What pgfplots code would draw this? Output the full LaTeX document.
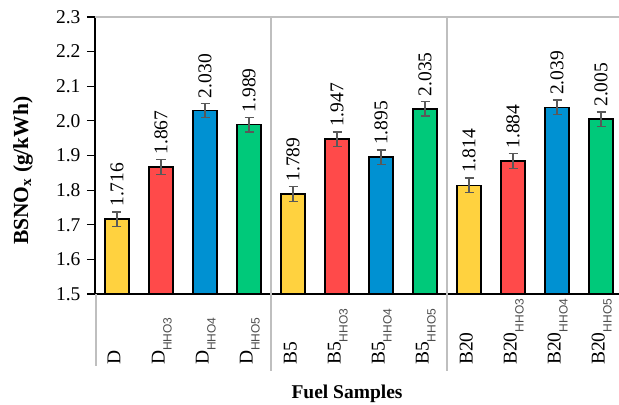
\documentclass[border=0pt]{standalone}
\usepackage{pgfplots}
\pgfplotsset{compat=1.18}
\usepackage{fontspec}
\setmainfont{Liberation Serif}
\newfontfamily\subfont{Liberation Sans}
\definecolor{cY}{HTML}{FFD23F}
\definecolor{cR}{HTML}{FF4A4A}
\definecolor{cB}{HTML}{0091D2}
\definecolor{cG}{HTML}{00C97A}
\definecolor{sep}{HTML}{BFBFBF}
\definecolor{err}{HTML}{595959}
\newcommand\sub[1]{\raisebox{-7bp}{\fontsize{12bp}{13bp}\subfont\color{black!70}#1}}
\newcommand\lf{\fontsize{19.5bp}{21bp}\selectfont}
\begin{document}
\begin{tikzpicture}
\begin{axis}[
  width=524bp, height=277bp, scale only axis,
  xmin=-0.5, xmax=11.409, ymin=1.5, ymax=2.3,
  axis x line*=bottom, axis y line*=left,
  axis line style={-, black, line width=1.5bp},
  xtick=\empty,
  ytick={1.5,1.6,1.7,1.8,1.9,2.0,2.1,2.2,2.3},
  yticklabel style={xshift=-3bp, /pgf/number format/fixed, /pgf/number format/fixed zerofill, /pgf/number format/precision=1, /pgf/number format/assume math mode=true},
  tick label style={font=\lf},
  tick align=outside, major tick length=8bp, tick style={black, line width=1.2bp},
  ybar, bar width=24bp, bar shift=0pt,
  clip=false,
  every axis plot/.append style={draw=black, line width=1.5bp},
  error bars/error bar style={line width=1.3bp, color=err},
  error bars/error mark options={rotate=90, mark size=4.5bp, line width=1.3bp, color=err},
]
% separators and top border
\draw[sep, line width=1.3bp] (rel axis cs:0,1) -- (rel axis cs:1,1);
\draw[sep, line width=1.3bp] (axis cs:3.5,2.3) -- ([yshift=-77bp]axis cs:3.5,1.5);
\draw[sep, line width=1.3bp] (axis cs:7.5,2.3) -- ([yshift=-77bp]axis cs:7.5,1.5);
\draw[sep, line width=1.3bp] ([xshift=1bp]axis cs:-0.5,1.5) -- ([xshift=1bp,yshift=-72bp]axis cs:-0.5,1.5);

\addplot[fill=cY, error bars/.cd, y dir=both, y explicit] coordinates {(0,1.716) +- (0,0.021) (4,1.789) +- (0,0.021) (8,1.814) +- (0,0.021)};
\addplot[fill=cR, error bars/.cd, y dir=both, y explicit] coordinates {(1,1.867) +- (0,0.021) (5,1.947) +- (0,0.021) (9,1.884) +- (0,0.021)};
\addplot[fill=cB, error bars/.cd, y dir=both, y explicit] coordinates {(2,2.030) +- (0,0.021) (6,1.895) +- (0,0.021) (10,2.039) +- (0,0.021)};
\addplot[fill=cG, error bars/.cd, y dir=both, y explicit] coordinates {(3,1.989) +- (0,0.021) (7,2.035) +- (0,0.021) (11,2.005) +- (0,0.021)};

% value labels
\begin{scope}[every node/.style={rotate=90, anchor=west, inner sep=0pt, font=\lf}]
\node at ([yshift=5bp]axis cs:0,1.737) {1.716};
\node at ([yshift=5bp]axis cs:1,1.888) {1.867};
\node at ([yshift=5bp]axis cs:2,2.051) {2.030};
\node at ([yshift=5bp]axis cs:3,2.010) {1.989};
\node at ([yshift=5bp]axis cs:4,1.810) {1.789};
\node at ([yshift=5bp]axis cs:5,1.968) {1.947};
\node at ([yshift=5bp]axis cs:6,1.916) {1.895};
\node at ([yshift=5bp]axis cs:7,2.056) {2.035};
\node at ([yshift=5bp]axis cs:8,1.835) {1.814};
\node at ([yshift=5bp]axis cs:9,1.905) {1.884};
\node at ([yshift=5bp]axis cs:10,2.060) {2.039};
\node at ([yshift=5bp]axis cs:11,2.026) {2.005};
\end{scope}

% category labels
\begin{scope}[every node/.style={rotate=90, anchor=base west, inner sep=0pt, font=\lf}]
\node at ([xshift=3.5bp,yshift=-71bp]axis cs:0,1.5) {D};
\node at ([xshift=3.5bp,yshift=-71bp]axis cs:1,1.5) {D\sub{HHO3}};
\node at ([xshift=3.5bp,yshift=-71bp]axis cs:2,1.5) {D\sub{HHO4}};
\node at ([xshift=3.5bp,yshift=-71bp]axis cs:3,1.5) {D\sub{HHO5}};
\node at ([xshift=3.5bp,yshift=-71bp]axis cs:4,1.5) {B5};
\node at ([xshift=3.5bp,yshift=-71bp]axis cs:5,1.5) {B5\sub{HHO3}};
\node at ([xshift=3.5bp,yshift=-71bp]axis cs:6,1.5) {B5\sub{HHO4}};
\node at ([xshift=3.5bp,yshift=-71bp]axis cs:7,1.5) {B5\sub{HHO5}};
\node at ([xshift=3.5bp,yshift=-71bp]axis cs:8,1.5) {B20};
\node at ([xshift=3.5bp,yshift=-71bp]axis cs:9,1.5) {B20\sub{HHO3}};
\node at ([xshift=3.5bp,yshift=-71bp]axis cs:10,1.5) {B20\sub{HHO4}};
\node at ([xshift=3.5bp,yshift=-71bp]axis cs:11,1.5) {B20\sub{HHO5}};
\end{scope}

% axis titles
\node[anchor=base, font=\bfseries\lf] at ([yshift=-104bp]rel axis cs:0.481,0) {Fuel Samples};
\node[rotate=90, font=\bfseries\fontsize{21.5bp}{23bp}\selectfont] at ([xshift=-72bp]rel axis cs:0,0.445) {BSNO\textsubscript{x} (g/kWh)};
\end{axis}
\pgfresetboundingbox
\path (-95bp,-111bp) rectangle (524bp,294bp);
\end{tikzpicture}
\end{document}
